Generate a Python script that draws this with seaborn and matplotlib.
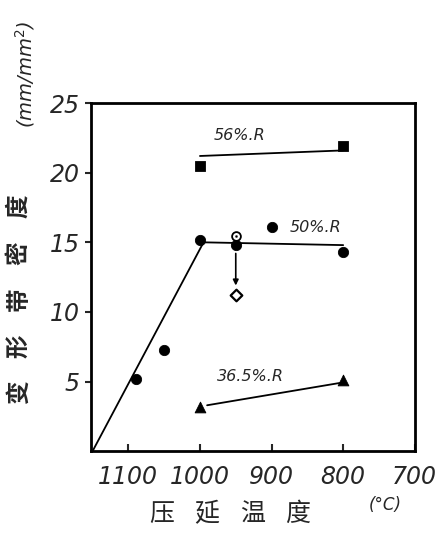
import numpy as np
import pandas as pd
import matplotlib
matplotlib.use("Agg")
import matplotlib.pyplot as plt
import seaborn as sns

# data
sq_t = [1000, 800]
sq_v = [20.5, 21.9]
sq_line_t = [1000, 800]
sq_line_v = [21.2, 21.6]

circ_t = [1090, 1050, 1000, 950, 900, 800]
circ_v = [5.2, 7.3, 15.2, 14.8, 16.1, 14.3]
circ_line_t = [1150, 995, 800]
circ_line_v = [0.0, 15.0, 14.8]

open_circ_t = [950]
open_circ_v = [15.45]
diamond_t = [950]
diamond_v = [11.2]

tri_t = [1000, 800]
tri_v = [3.15, 5.15]
tri_line_t = [990, 805]
tri_line_v = [3.3, 4.9]

labels = ["56%.R", "50%.R", "36.5%.R"]
label_t = [945, 838, 930]
label_v = [22.7, 16.1, 5.4]

x_ticks = [1100, 1000, 900, 800, 700]
y_ticks = [5, 10, 15, 20, 25]

ylabel_chars = ["变", "形", "带", "密", "度"]
xlabel_chars = ["压", "延", "温", "度"]

sns.set_style("ticks")
plt.rcParams['font.family'] = ['DejaVu Sans']

fig = plt.figure(figsize=(4.38, 5.34), dpi=100)
ax = fig.add_axes([0.208, 0.155, 0.739, 0.652])

sns.lineplot(x=sq_line_t, y=sq_line_v, color="black", lw=1.3, ax=ax, sort=False)
sns.lineplot(x=circ_line_t, y=circ_line_v, color="black", lw=1.3, ax=ax, sort=False)
sns.lineplot(x=tri_line_t, y=tri_line_v, color="black", lw=1.3, ax=ax, sort=False)

sns.scatterplot(x=sq_t, y=sq_v, marker="s", s=55, color="black", edgecolor="black", ax=ax, zorder=5)
sns.scatterplot(x=circ_t, y=circ_v, marker="o", s=55, color="black", edgecolor="black", ax=ax, zorder=5)
sns.scatterplot(x=tri_t, y=tri_v, marker="^", s=60, color="black", edgecolor="black", ax=ax, zorder=5)
sns.scatterplot(x=open_circ_t, y=open_circ_v, marker="o", s=40, color="white", edgecolor="black", linewidth=1.3, ax=ax, zorder=5)
sns.scatterplot(x=open_circ_t, y=open_circ_v, marker="o", s=4, color="black", ax=ax, zorder=6)
sns.scatterplot(x=diamond_t, y=diamond_v, marker="D", s=35, color="white", edgecolor="black", linewidth=1.6, ax=ax, zorder=5)

# arrow from the filled circle down to the diamond
ax.annotate("", xy=(diamond_t[0], diamond_v[0] + 0.5), xytext=(circ_t[3], circ_v[3] - 0.4),
            arrowprops=dict(arrowstyle="-|>", color="black", lw=1.2, mutation_scale=8))

for lab, t, v in zip(labels, label_t, label_v):
    ax.text(t, v, lab, fontsize=11.5, style="italic", ha="center", va="center")

ax.set_xlim(1152, 700)
ax.set_ylim(0, 25)
ax.set_xticks(x_ticks)
ax.set_yticks(y_ticks)
ax.set_xticklabels([str(t) for t in x_ticks], fontsize=17, style="italic")
ax.set_yticklabels([str(t) for t in y_ticks], fontsize=17, style="italic")
ax.tick_params(axis="x", direction="in", length=5, width=1.5, pad=10)
ax.tick_params(axis="y", direction="out", length=4, width=1.5, pad=4)
for sp in ax.spines.values():
    sp.set_visible(True)
    sp.set_linewidth(2)
    sp.set_color("black")

cjk = ['Noto Sans CJK SC', 'DejaVu Sans']
# y label: characters stacked upward, rotated
for i, ch in enumerate(ylabel_chars):
    fig.text(0.042, 0.265 + i * 0.087, ch, rotation=90, fontsize=17, family=cjk,
             ha="center", va="center", weight="bold")
fig.text(0.057, 0.86, "(mm/mm$^2$)", rotation=90, fontsize=14, style="italic", ha="center", va="center")
# x label
for i, ch in enumerate(xlabel_chars):
    fig.text(0.37 + i * 0.103, 0.037, ch, fontsize=18, family=cjk, ha="center", va="center")
fig.text(0.88, 0.055, "(°C)", fontsize=12, style="italic", ha="center", va="center")

fig.savefig("out.png", dpi=100)
